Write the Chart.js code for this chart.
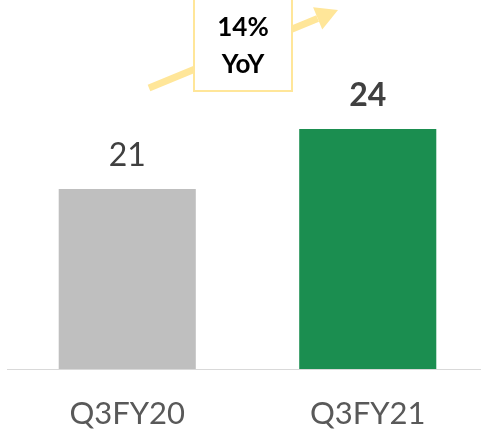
<!DOCTYPE html>
<html>
<head>
<meta charset="utf-8">
<script src="https://cdn.jsdelivr.net/npm/chart.js@4/dist/chart.umd.min.js"></script>
<style>
  html, body { margin: 0; padding: 0; background: #fff; overflow: hidden; }
  #wrap { width: 488px; height: 434px; }
</style>
</head>
<body>
<div id="wrap"><canvas id="chart"></canvas></div>
<script>
// data
const categories = ['Q3FY20', 'Q3FY21'];
const values = [21, 24];
const barColors = ['#bfbfbf', '#1b8e50'];
const valueBold = [false, true];
const growthText = ['14%', 'YoY'];

// labels over the bars
const valueLabels = {
    id: 'valueLabels',
    afterDatasetsDraw(chart) {
        const ctx = chart.ctx;
        const meta = chart.getDatasetMeta(0);
        ctx.save();
        ctx.textAlign = 'center';
        ctx.textBaseline = 'middle';
        ctx.fillStyle = '#404040';
        meta.data.forEach((bar, i) => {
            ctx.font = (valueBold[i] ? 'bold ' : '') + '32px Lato';
            ctx.fillText(String(values[i]), bar.x, bar.y - 33);
        });
        ctx.restore();
    }
};

// arrow + YoY box
const growthBox = {
    id: 'growthBox',
    afterDraw(chart) {
        const ctx = chart.ctx;
        const x0 = 149, y0 = 88, x1 = 338, y1 = 10;
        const ang = Math.atan2(y1 - y0, x1 - x0);
        const headLen = 22, headW = 12;
        const bx = x1 - headLen * Math.cos(ang), by = y1 - headLen * Math.sin(ang);
        ctx.save();
        ctx.strokeStyle = '#ffe699';
        ctx.fillStyle = '#ffe699';
        ctx.lineWidth = 7;
        ctx.beginPath();
        ctx.moveTo(x0, y0);
        ctx.lineTo(bx, by);
        ctx.stroke();
        ctx.beginPath();
        ctx.moveTo(x1, y1);
        ctx.lineTo(bx + headW * Math.sin(ang), by - headW * Math.cos(ang));
        ctx.lineTo(bx - headW * Math.sin(ang), by + headW * Math.cos(ang));
        ctx.closePath();
        ctx.fill();

        // box
        ctx.fillStyle = '#ffffff';
        ctx.fillRect(194, -4, 98, 95);
        ctx.lineWidth = 2;
        ctx.strokeRect(194, -4, 98, 95);

        ctx.fillStyle = '#000000';
        ctx.font = 'bold 26px Lato';
        ctx.textAlign = 'center';
        ctx.textBaseline = 'middle';
        ctx.fillText(growthText[0], 243, 28);
        ctx.fillText(growthText[1], 243, 65);
        ctx.restore();
    }
};

new Chart(document.getElementById('chart'), {
    type: 'bar',
    data: {
        labels: categories,
        datasets: [{
            data: values,
            backgroundColor: barColors,
            categoryPercentage: 1,
            barPercentage: 0.57
        }]
    },
    options: {
        responsive: true,
        maintainAspectRatio: false,
        animation: false,
        layout: { padding: { left: 7, right: 0, top: 9, bottom: 3 } },
        plugins: { legend: { display: false }, tooltip: { enabled: false } },
        scales: {
            x: {
                grid: { display: false, drawTicks: false },
                border: { display: true, color: '#d9d9d9', width: 1 },
                ticks: { color: '#595959', font: { family: 'Lato', size: 31 }, padding: 26 },
                afterFit(scale) { scale.height = 62; }
            },
            y: {
                display: false,
                min: 12,
                max: 30
            }
        }
    },
    plugins: [valueLabels, growthBox]
});
</script>
</body>
</html>
